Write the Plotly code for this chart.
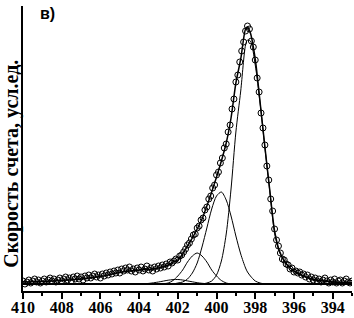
import plotly.graph_objects as go

# Binding energy grid for fitted curves (eV)
fit_e = [410, 409, 408, 407, 406, 405.5, 405, 404.5, 404, 403.5, 403, 402.5, 402.25, 402,
         401.75, 401.5, 401.25, 401, 400.75, 400.5, 400.25, 400, 399.75, 399.5, 399.25,
         399, 398.75, 398.5, 398.4, 398.25, 398, 397.75, 397.5, 397.25, 397, 396.75,
         396.5, 396.25, 396, 395.5, 395, 394.5, 394, 393.5, 393]

envelope = [9, 9.5, 10.5, 12, 14.5, 16.5, 18.5, 20, 21, 21.5, 23, 26, 29, 31,
            37, 45, 53, 62, 72, 85, 99, 114, 130, 148, 173,
            208, 232, 262, 264, 258, 232, 189, 144, 101, 60, 40,
            30, 24, 20, 15, 11.5, 10, 9, 8.5, 8.5]

comp1 = [7, 7, 7, 7, 7, 7, 7, 7, 7, 7, 7, 7, 7, 7,
         7, 7, 7, 7, 7, 8, 10, 16, 30, 57, 102,
         159, 200, 246, 251, 250, 226, 188, 143, 100, 58, 39,
         30, 24, 20, 15, 11.5, 10, 9, 8.5, 8.5]

comp2 = [7, 7, 7, 7, 7, 7, 7, 7, 7, 7, 7, 7, 7, 8,
         9, 12, 18, 28, 44, 63, 82, 95, 99, 91, 75,
         55, 37, 23, 19, 15, 10, 8, 7, 7, 7, 7,
         7, 7, 7, 7, 7, 7, 7, 7, 7]

comp3 = [7, 7, 7, 7, 7, 7, 7, 7, 7, 7, 7, 8, 10.5, 15,
         21, 29, 35, 38, 35, 29, 21, 15, 10.5, 8, 7,
         7, 7, 7, 7, 7, 7, 7, 7, 7, 7, 7,
         7, 7, 7, 7, 7, 7, 7, 7, 7]

comp4 = [7, 7, 7, 7, 7, 7, 7, 7, 7.1, 7.6, 9, 10.8, 11.4, 11.5,
         11, 10.1, 9.2, 8.3, 7.7, 7.3, 7, 7, 7, 7, 7,
         7, 7, 7, 7, 7, 7, 7, 7, 7, 7, 7,
         7, 7, 7, 7, 7, 7, 7, 7, 7]

baseline = [7] * len(fit_e)

# Measured points
data_e = [410.0, 409.9, 409.8, 409.7, 409.6, 409.5, 409.4, 409.3, 409.2, 409.1,
          409.0, 408.9, 408.8, 408.7, 408.6, 408.5, 408.4, 408.3, 408.2, 408.1,
          408.0, 407.9, 407.8, 407.7, 407.6, 407.5, 407.4, 407.3, 407.2, 407.1,
          407.0, 406.9, 406.8, 406.7, 406.6, 406.5, 406.4, 406.3, 406.2, 406.1,
          406.0, 405.9, 405.8, 405.7, 405.6, 405.5, 405.4, 405.3, 405.2, 405.1,
          405.0, 404.9, 404.8, 404.7, 404.6, 404.5, 404.4, 404.3, 404.2, 404.1,
          404.0, 403.9, 403.8, 403.7, 403.6, 403.5, 403.4, 403.3, 403.2, 403.1,
          403.0, 402.9, 402.8, 402.7, 402.6, 402.5, 402.4, 402.3, 402.2, 402.1,
          402.0, 401.9, 401.8, 401.7, 401.6, 401.5, 401.4, 401.3, 401.2,
          401.1, 401.0, 400.9, 400.8, 400.7, 400.6, 400.5, 400.4, 400.3, 400.2, 400.1,
          400.0, 399.9, 399.8, 399.7, 399.6, 399.5, 399.4, 399.3, 399.2, 399.1,
          399.0, 398.9, 398.8, 398.7, 398.6, 398.5, 398.4, 398.3, 398.2, 398.1,
          398.0, 397.9, 397.8, 397.7, 397.6, 397.5, 397.4, 397.3, 397.2, 397.1,
          397.0, 396.9, 396.8, 396.7, 396.6, 396.5, 396.4, 396.3, 396.2, 396.1, 396.0,
          395.9, 395.8, 395.7, 395.6, 395.5, 395.4, 395.3, 395.2, 395.1, 395.0,
          394.9, 394.8, 394.7, 394.6, 394.5, 394.4, 394.3, 394.2, 394.1, 394.0,
          393.9, 393.8, 393.7, 393.6, 393.5, 393.4, 393.3, 393.2, 393.1, 393.0]

data_i = [10, 7, 9, 11, 8, 10, 12, 9, 11, 8,
          10, 12, 9, 11, 13, 10, 12, 9, 11, 13,
          10, 12, 14, 11, 13, 10, 14, 12, 15, 12,
          14, 11, 15, 13, 16, 13, 15, 17, 14, 16,
          13, 17, 15, 18, 16, 19, 17, 20, 18, 21,
          18, 22, 20, 23, 21, 24, 20, 22, 19, 23,
          21, 24, 20, 22, 25, 21, 23, 20, 24, 22,
          25, 23, 26, 24, 27, 25, 29, 28, 30, 32,
          31, 35, 36, 39, 42, 46, 48, 52, 56,
          57, 63, 65, 71, 73, 81, 84, 92, 95, 103, 106,
          116, 119, 128, 133, 143, 147, 159, 166, 182, 192,
          209, 216, 229, 240, 249, 260, 265, 262, 250, 244,
          231, 213, 199, 178, 163, 146, 125, 111, 92, 80,
          62, 51, 45, 38, 32, 31, 27, 26, 22, 23, 19,
          20, 18, 19, 16, 17, 14, 16, 12, 14, 11,
          13, 10, 12, 9, 11, 13, 10, 8, 11, 9,
          12, 8, 10, 11, 8, 10, 12, 9, 8, 10]

x_ticks = [410, 408, 406, 404, 402, 400, 398, 396, 394]

fig = go.Figure()

fig.add_trace(go.Scatter(x=fit_e, y=baseline, mode="lines",
                         line=dict(color="black", width=2), hoverinfo="skip"))
for comp in (comp4, comp3, comp2, comp1):
    fig.add_trace(go.Scatter(x=fit_e, y=comp, mode="lines",
                             line=dict(color="black", width=1, shape="spline", smoothing=0.8),
                             hoverinfo="skip"))

fig.add_trace(go.Scatter(x=data_e, y=data_i, mode="markers",
                         marker=dict(symbol="circle-open", size=6, color="black",
                                     line=dict(width=1, color="black"))))

fig.add_trace(go.Scatter(x=fit_e, y=envelope, mode="lines",
                         line=dict(color="black", width=1.5, shape="spline", smoothing=0.8),
                         hoverinfo="skip"))

fig.update_layout(
    template="none",
    width=354, height=318,
    margin=dict(l=23, r=2, t=6, b=27),
    paper_bgcolor="white", plot_bgcolor="white",
    showlegend=False,
    font=dict(family="Liberation Serif", color="black"),
    annotations=[
        dict(text="Скорость счета, усл.ед.", textangle=-90, xref="paper", yref="paper",
             x=-0.034, y=0.446, xanchor="center", yanchor="middle", showarrow=False,
             font=dict(family="Liberation Serif", size=20, color="black", weight="bold")),
        dict(text="в)", xref="paper", yref="paper", x=0.073, y=0.975,
             xanchor="center", yanchor="middle", showarrow=False,
             font=dict(family="Liberation Sans", size=16, color="black", weight="bold")),
    ],
)

fig.update_xaxes(
    automargin=False,
    range=[410, 393], showline=True, linecolor="black", linewidth=1.5,
    showgrid=False, zeroline=False, ticks="outside", ticklen=6, tickwidth=1.5,
    tickcolor="black", tickvals=x_ticks, ticktext=[str(v) for v in x_ticks],
    ticklabelstandoff=-5,
    tickfont=dict(family="Liberation Serif", size=16, color="black", weight="bold"),
    minor=dict(dtick=1, tick0=410, ticks="outside", ticklen=3, tickcolor="black",
               tickwidth=1.5, showgrid=False),
)
fig.update_yaxes(
    automargin=False,
    range=[0, 285], showline=True, linecolor="black", linewidth=1.5,
    showgrid=False, zeroline=False, showticklabels=False, ticks="",
)

fig.write_html(
    "out.html",
    config={"displayModeBar": False},
    post_script="document.body.style.margin='0';document.body.style.padding='0';",
)
